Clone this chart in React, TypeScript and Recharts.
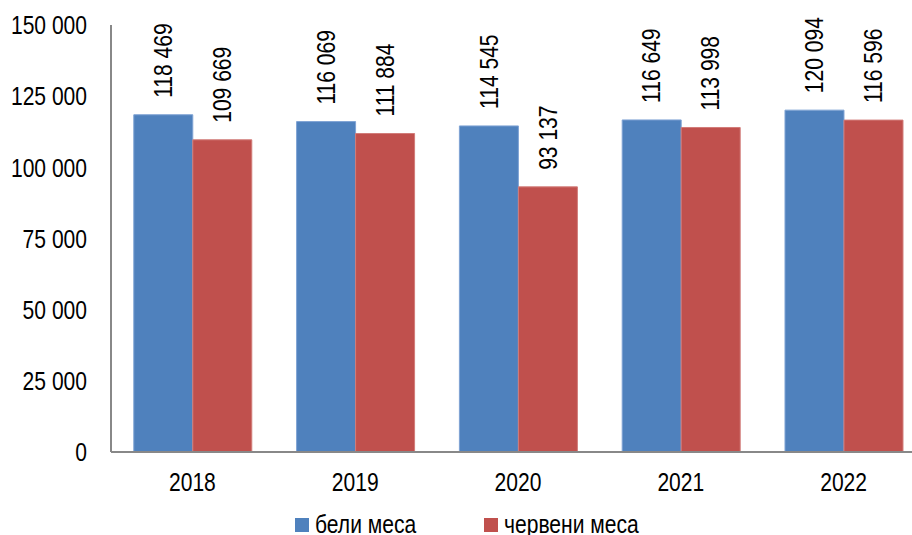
import React from 'react';
import { BarChart, Bar, XAxis, YAxis, Legend, LabelList } from 'recharts';

const years = ['2018', '2019', '2020', '2021', '2022'];
const whiteMeat = [118469, 116069, 114545, 116649, 120094];
const redMeat = [109669, 111884, 93137, 113998, 116596];
const yTicks = [0, 25000, 50000, 75000, 100000, 125000, 150000];
const seriesNames = ['бели меса', 'червени меса'];
const seriesColors = ['#4F81BD', '#C0504D'];
const seriesStrokes = ['#7FA3D4', '#D27C79'];

const data = years.map((y, i) => ({ year: y, white: whiteMeat[i], red: redMeat[i] }));

const FONT = '"Liberation Sans", Arial, sans-serif';
const FS = 26;
const SX = 0.81;

const fmt = (v: number) => String(v).replace(/\B(?=(\d{3})+(?!\d))/g, ' ');

const YTick = (props: any) => {
  const { x, y, payload } = props;
  return (
    <text
      x={x}
      y={y}
      dy="0.355em"
      textAnchor="end"
      transform={`translate(${x},${y}) scale(${SX},1) translate(${-x},${-y})`}
      fontFamily={FONT}
      fontSize={FS}
      fill="#000"
    >
      {fmt(payload.value)}
    </text>
  );
};

const XTick = (props: any) => {
  const { x, y, payload } = props;
  return (
    <text
      x={x}
      y={y}
      dy="0.71em"
      textAnchor="middle"
      transform={`translate(${x},${y}) scale(${SX},1) translate(${-x},${-y})`}
      fontFamily={FONT}
      fontSize={FS}
      fill="#000"
    >
      {payload.value}
    </text>
  );
};

const RotLabel = (props: any) => {
  const { x, y, width, value } = props;
  const cx = x + width / 2;
  const ty = y - 17;
  return (
    <text
      x={cx}
      y={ty}
      transform={`translate(${cx},${ty}) rotate(-90) scale(${SX},1) translate(${-cx},${-ty})`}
      textAnchor="start"
      dominantBaseline="central"
      fontFamily={FONT}
      fontSize={FS}
      fill="#000"
    >
      {fmt(value)}
    </text>
  );
};

const LegendContent = () => (
  <div style={{ position: 'relative', width: 930, height: 30, fontFamily: FONT, fontSize: FS, color: '#000' }}>
    {seriesNames.map((n, i) => (
      <div
        key={n}
        style={{ position: 'absolute', left: i === 0 ? 295 : 484, top: 0, display: 'flex', alignItems: 'flex-start', whiteSpace: 'nowrap' }}
      >
        <span style={{ display: 'inline-block', width: 14, height: 14, background: seriesColors[i], marginTop: 8, marginRight: 6 }} />
        <span style={{ lineHeight: '28px', display: 'inline-block', transform: `scaleX(${SX})`, transformOrigin: 'left center' }}>{n}</span>
      </div>
    ))}
  </div>
);

export default function App() {
  return (
    <div style={{ position: 'absolute', left: 0, top: 0, width: 912, height: 535, overflow: 'hidden', background: '#fff' }}>
      <BarChart
        width={930}
        height={535}
        data={data}
        margin={{ top: 25, right: 5, left: 0, bottom: 0 }}
        barCategoryGap="14%"
        barGap={0}
      >
        <XAxis
          dataKey="year"
          height={83}
          tickLine={false}
          tickSize={0}
          tickMargin={21}
          axisLine={{ stroke: '#888888', strokeWidth: 2 }}
          tick={<XTick />}
        />
        <YAxis
          width={111}
          domain={[0, 150000]}
          ticks={yTicks}
          interval={0}
          tickLine={false}
          tickSize={0}
          tickMargin={24}
          axisLine={{ stroke: '#888888', strokeWidth: 2 }}
          tick={<YTick />}
        />
        <Legend
          layout="horizontal"
          verticalAlign="middle"
          align="center"
          content={<LegendContent />}
          wrapperStyle={{ top: 510, left: 0, width: 930 }}
        />
        <Bar dataKey="white" name={seriesNames[0]} fill={seriesColors[0]} stroke={seriesStrokes[0]} strokeWidth={1} isAnimationActive={false}>
          <LabelList dataKey="white" content={<RotLabel />} />
        </Bar>
        <Bar dataKey="red" name={seriesNames[1]} fill={seriesColors[1]} stroke={seriesStrokes[1]} strokeWidth={1} isAnimationActive={false}>
          <LabelList dataKey="red" content={<RotLabel />} />
        </Bar>
      </BarChart>
    </div>
  );
}
